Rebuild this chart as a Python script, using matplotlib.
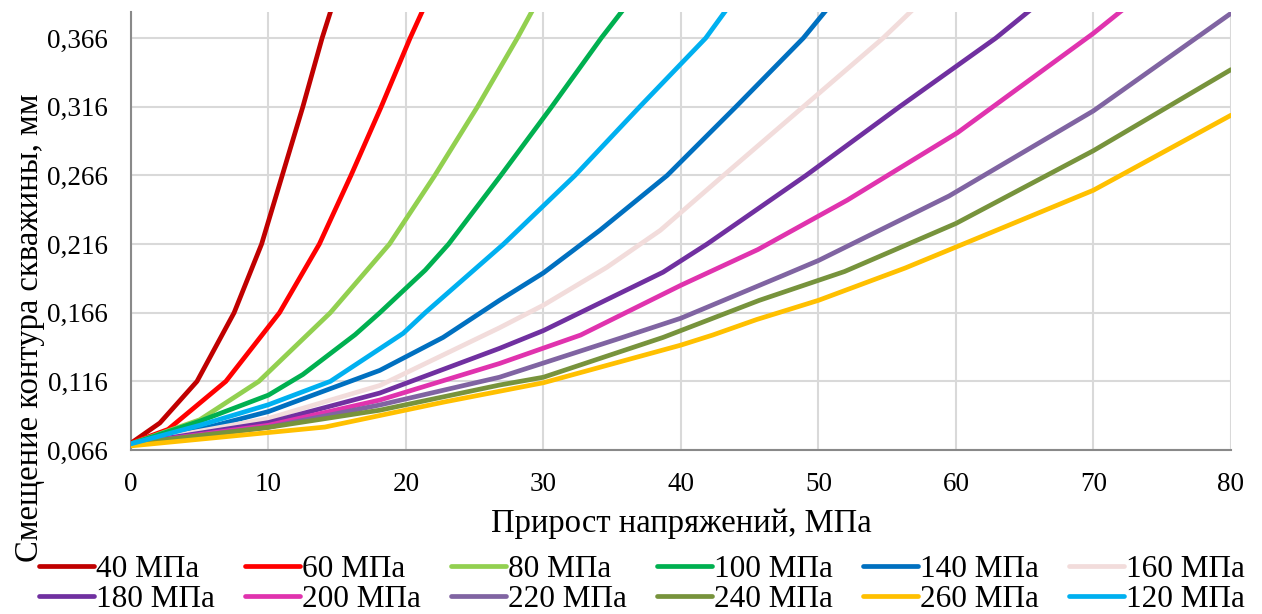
import matplotlib
matplotlib.use("Agg")
import matplotlib.pyplot as plt
from matplotlib.ticker import FuncFormatter, MultipleLocator

plt.rcParams["font.family"] = ["Liberation Serif", "DejaVu Serif"]

# Radial displacement of the borehole wall vs. stress increment,
# one curve per initial rock pressure (MPa).
labels = ["40 МПа", "60 МПа", "80 МПа", "100 МПа", "140 МПа", "160 МПа",
          "180 МПа", "200 МПа", "220 МПа", "240 МПа", "260 МПа", "120 МПа"]

x_40 = [0, 2.1, 4.8, 7.5, 9.5, 11.0, 12.5, 13.9, 14.6]
y_40 = [0.071, 0.0857, 0.116, 0.166, 0.216, 0.266, 0.316, 0.366, 0.388]

x_60 = [0, 2.7, 6.9, 10.8, 13.7, 16.0, 18.2, 20.3, 21.3]
y_60 = [0.071, 0.081, 0.116, 0.166, 0.216, 0.266, 0.316, 0.366, 0.388]

x_80 = [0, 5, 9.3, 14.5, 18.8, 22.1, 25.2, 28.1, 29.3]
y_80 = [0.0705, 0.088, 0.116, 0.166, 0.216, 0.266, 0.316, 0.366, 0.388]

x_100 = [0, 5, 10, 12.5, 16.3, 18.1, 21.4, 23.1, 26.9, 30.6, 34.2, 35.9]
y_100 = [0.0705, 0.087, 0.106, 0.121, 0.150, 0.166, 0.197, 0.216, 0.266, 0.316, 0.366, 0.388]

x_140 = [0, 5, 10, 18.1, 22.7, 26.8, 30, 34.1, 39.0, 44.0, 48.9, 50.7]
y_140 = [0.0705, 0.081, 0.094, 0.124, 0.148, 0.175, 0.195, 0.226, 0.266, 0.316, 0.366, 0.388]

x_160 = [0, 10, 18.1, 26.8, 30, 34.6, 38.5, 43.1, 48.9, 54.7, 57.0]
y_160 = [0.0705, 0.089, 0.113, 0.155, 0.1715, 0.199, 0.226, 0.266, 0.316, 0.366, 0.388]

x_180 = [0, 10, 18.1, 26.8, 30, 38.7, 41.9, 49.1, 55.9, 62.9, 65.6]
y_180 = [0.0705, 0.086, 0.1075, 0.140, 0.153, 0.1955, 0.216, 0.266, 0.316, 0.366, 0.388]

x_200 = [0, 10, 18.1, 26.8, 32.7, 40, 45.6, 52.1, 60.1, 70, 72.3]
y_200 = [0.0705, 0.084, 0.1024, 0.129, 0.1497, 0.186, 0.212, 0.248, 0.297, 0.3695, 0.388]

x_220 = [0, 10, 18.1, 26.8, 35.6, 40, 47.4, 50, 59.5, 70, 80]
y_220 = [0.0705, 0.0826, 0.0988, 0.119, 0.1475, 0.162, 0.193, 0.204, 0.251, 0.313, 0.384]

x_240 = [0, 10, 18.1, 26.8, 30, 38.7, 45.7, 51.9, 60, 70, 80]
y_240 = [0.0705, 0.0825, 0.095, 0.1133, 0.119, 0.148, 0.175, 0.196, 0.231, 0.284, 0.343]

x_260 = [0, 14.1, 22.8, 30, 40, 42.3, 45.5, 50, 56.3, 60, 70, 80]
y_260 = [0.069, 0.0827, 0.101, 0.115, 0.1424, 0.1497, 0.161, 0.175, 0.1985, 0.2138, 0.2552, 0.3098]

x_120 = [0, 5, 10, 14.5, 19.8, 21.4, 27.1, 32.3, 37.0, 41.8, 43.4]
y_120 = [0.0705, 0.084, 0.099, 0.116, 0.151, 0.166, 0.216, 0.266, 0.316, 0.366, 0.388]

xs = [x_40, x_60, x_80, x_100, x_140, x_160, x_180, x_200, x_220, x_240, x_260, x_120]
ys = [y_40, y_60, y_80, y_100, y_140, y_160, y_180, y_200, y_220, y_240, y_260, y_120]

colors = ["#C00000", "#FF0000", "#92D050", "#00B050", "#0070C0", "#F2DCDB",
          "#7030A0", "#E033AE", "#8064A2", "#77933C", "#FFC000", "#00B0F0"]

y_ticks = [0.066, 0.116, 0.166, 0.216, 0.266, 0.316, 0.366]

fig = plt.figure(figsize=(12.62, 6.14), dpi=100)
ax = fig.add_axes([0.1038, 0.2671, 0.8716, 0.7134])

handles = []
for x, y, c, lab in zip(xs, ys, colors, labels):
    (h,) = ax.plot(x, y, color=c, lw=3.4, label=lab,
                   solid_capstyle="round", solid_joinstyle="round", zorder=3)
    handles.append(h)

ax.set_xlim(0, 80)
ax.set_ylim(0.066, 0.385)
ax.xaxis.set_major_locator(MultipleLocator(10))
ax.set_yticks(y_ticks)
ax.yaxis.set_major_formatter(FuncFormatter(lambda v, p: f"{v:.3f}".replace(".", ",")))
ax.xaxis.set_major_formatter(FuncFormatter(lambda v, p: f"{v:.0f}"))

ax.grid(True, color="#D9D9D9", lw=1.5, zorder=0)
ax.set_axisbelow(True)
for side in ("top", "right"):
    ax.spines[side].set_visible(False)
for side in ("left", "bottom"):
    ax.spines[side].set_color("#898989")
    ax.spines[side].set_linewidth(1.5)
ax.tick_params(length=0, labelsize=19.5)
ax.tick_params(axis="y", pad=16.5)
ax.tick_params(axis="x", pad=16)

ax.set_xlabel("Прирост напряжений, МПа", fontsize=23.5, labelpad=8)
ax.set_ylabel("Смещение контура скважины, мм", fontsize=23.5)
ax.yaxis.set_label_coords(-0.078, 0.28)

# legend laid out row by row: 6 columns x 2 rows
order = []
for col in range(6):
    order.append(col)
    order.append(col + 6)
leg = fig.legend([handles[i] for i in order], [labels[i] for i in order],
                 ncol=6, loc="lower left", bbox_to_anchor=(0.021, -0.021),
                 frameon=False, fontsize=22.5, handlelength=1.76, handletextpad=0.05,
                 columnspacing=0.98, labelspacing=0.04, borderaxespad=0.0)

fig.savefig("out.png", dpi=100)
